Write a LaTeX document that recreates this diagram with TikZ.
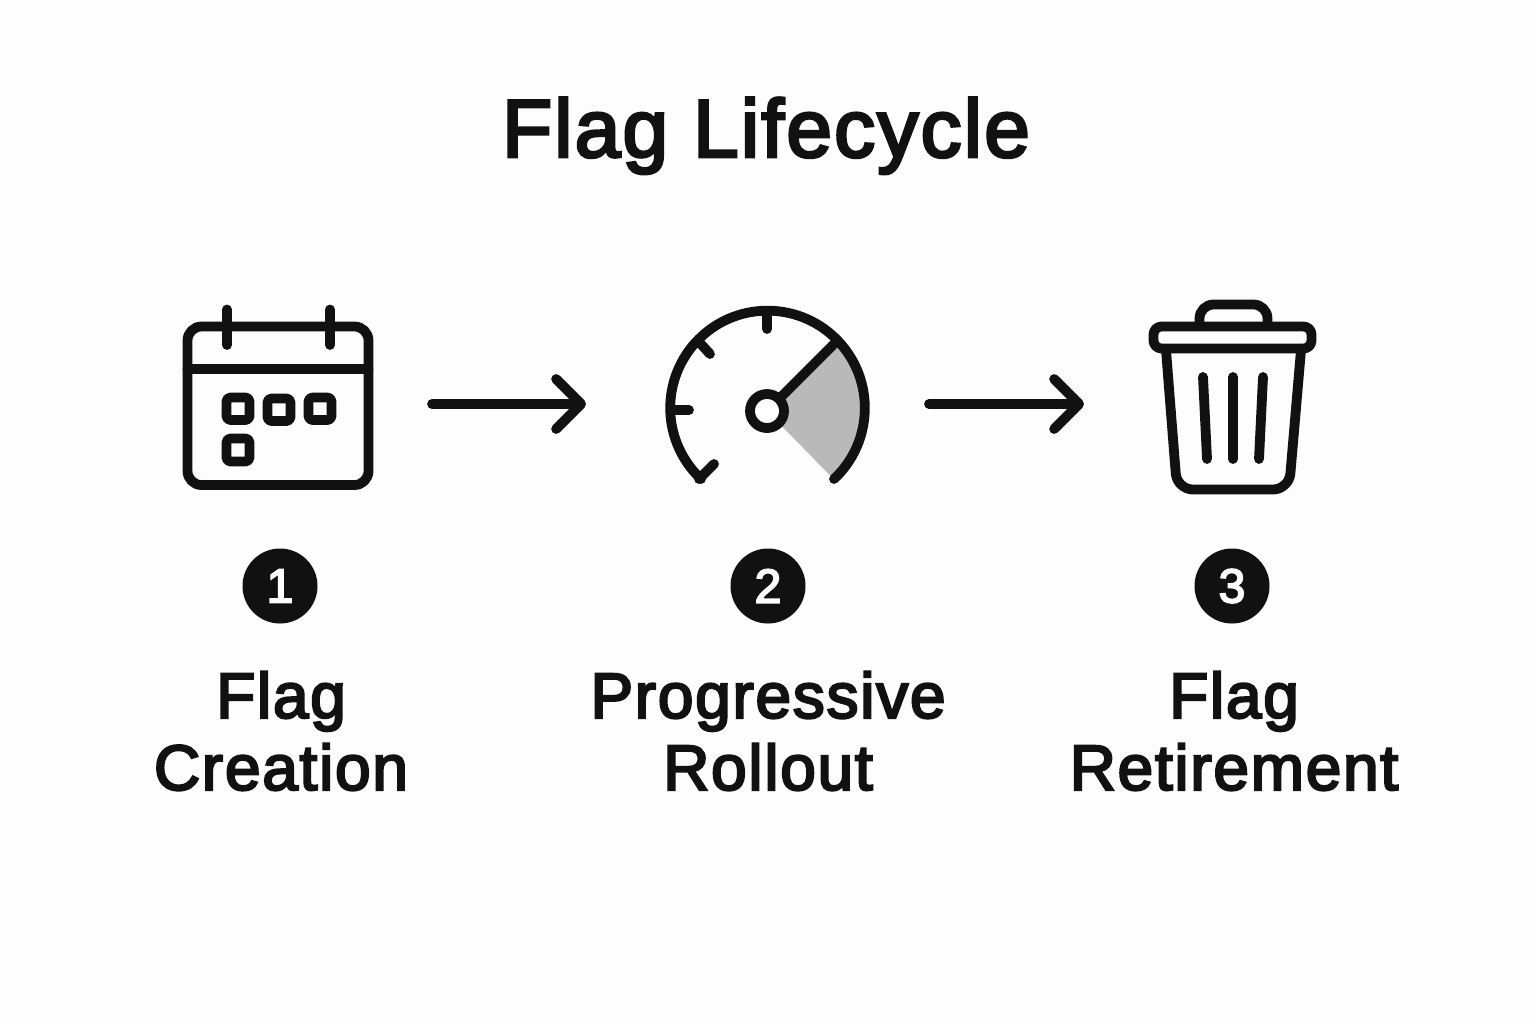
\documentclass[tikz,border=0pt]{standalone}
\usepackage{fontspec}
\setmainfont{Liberation Sans}
\newfontfamily\semi[FakeBold=3.5,LetterSpace=2.7]{Liberation Sans}
\newfontfamily\semib[FakeBold=3.5]{Liberation Sans}
\usetikzlibrary{arrows.meta}
\definecolor{ink}{HTML}{111111}
\definecolor{paper}{HTML}{FDFDFD}
\definecolor{wedge}{HTML}{B9B9B9}
\tikzset{
  x=0.5pt,y=-0.5pt,
  icon/.style={draw=ink,line width=4.9pt,line cap=round,line join=round},
  holder/.style={inner sep=0pt,outer sep=0pt,minimum height=80pt},
  flow/.style={icon,-{Straight Barb[length=12.5pt,width=25pt,round]}},
  badge/.style={circle,fill=ink,text=white,minimum size=37.5pt,inner sep=0pt,font=\semib\fontsize{24}{24}\selectfont},
  lab/.style={text=ink,font=\semi\fontsize{32}{36}\selectfont,align=center,inner sep=0pt},
}
\begin{document}
\begin{tikzpicture}
\useasboundingbox (0,0) rectangle (1536,1024);
\fill[paper] (0,0) rectangle (1536,1024);
\node[text=ink,font=\semi\fontsize{41}{41}\selectfont,inner sep=0pt,anchor=base] (title) at (766,157) {Flag Lifecycle};

% holders that fix the icon extents
\node[holder,minimum width=95pt] (cal) at (278,404) {};
\node[holder,minimum width=101.5pt] (gauge) at (767.5,404) {};
\node[holder,minimum width=83.5pt] (trash) at (1232.5,404) {};

% calendar
\draw[icon,rounded corners=7pt] (187.5,326.5) rectangle (368.5,485);
\draw[icon] (187.5,369) -- (368.5,369);
\draw[icon] (227,309.5) -- (227,345);
\draw[icon] (330,309.5) -- (330,345);
\draw[icon,rounded corners=2pt] (226.5,397.5) rectangle (249.5,420);
\draw[icon,rounded corners=2pt] (267.5,398.5) rectangle (290.5,421);
\draw[icon,rounded corners=2pt] (308.5,397.5) rectangle (331.5,420);
\draw[icon,rounded corners=2pt] (226.5,438.5) rectangle (249.5,461.5);

% gauge
\fill[wedge] (767,411) -- (837.5,340.5) arc[start angle=44,end angle=-47,radius=48.65pt] -- cycle;
\draw[icon] (834,479) arc[start angle=-46.9,end angle=226.9,radius=48.65pt];
\draw[icon] (767,311) -- (767,329);
\draw[icon] (672,410) -- (689,410);
\draw[icon] (700,343) -- (710,354);
\draw[icon] (699,479) -- (714,464);
\draw[icon] (767,411) -- (835,343);
\draw[icon,fill=white] (767,411) circle[radius=8.5pt];

% trash can
\draw[icon,rounded corners=7pt] (1199.5,326) -- (1199.5,304.5) -- (1267.5,304.5) -- (1267.5,326);
\draw[icon,rounded corners=8pt] (1166,350) -- (1177,489.5) -- (1289,489.5) -- (1301,350);
\draw[icon,fill=paper,rounded corners=4pt] (1153.5,326.5) rectangle (1311.5,348.5);
\draw[icon] (1203,377) -- (1207,459);
\draw[icon] (1233,377) -- (1233,459);
\draw[icon] (1263,377) -- (1259,459);

% connectors
\draw[flow] ([xshift=29.5pt]cal.east) -- ([xshift=-40pt]gauge.west);
\draw[flow] ([xshift=30pt]gauge.east) -- ([xshift=-32.5pt]trash.west);

% badges
\node[badge] (b1) at (280,586) {1};
\node[badge] (b2) at (768,586) {2};
\node[badge] (b3) at (1232,586) {3};

% labels
\node[lab] (l1) at (281,731) {Flag\\Creation};
\node[lab] (l2) at (768,731) {Progressive\\Rollout};
\node[lab] (l3) at (1234,731) {Flag\\Retirement};
\end{tikzpicture}
\end{document}
